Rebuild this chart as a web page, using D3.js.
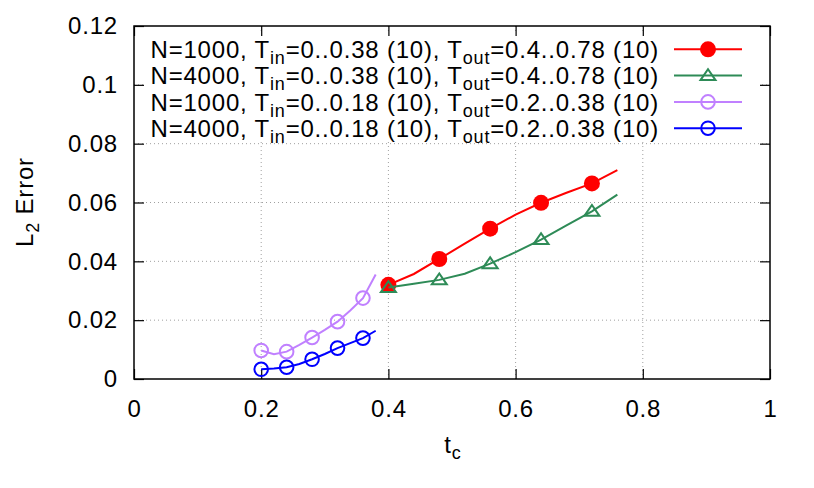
<!DOCTYPE html>
<html>
<head>
<meta charset="utf-8">
<script src="https://cdn.jsdelivr.net/npm/d3@7"></script>
<style>
  body { margin: 0; background: #fff; }
  svg { display: block; font-family: "Liberation Sans", Arial, Helvetica, sans-serif; }
  svg text { letter-spacing: 0.8px; }
</style>
</head>
<body>
<div id="chart"></div>
<script>
// data
var xLong = [0.40, 0.44, 0.48, 0.52, 0.56, 0.60, 0.64, 0.68, 0.72, 0.76];
var xShort = [0.20, 0.22, 0.24, 0.26, 0.28, 0.30, 0.32, 0.34, 0.36, 0.38];
var n1000Long = [0.0320, 0.0357, 0.0408, 0.0460, 0.0511, 0.0559, 0.0599, 0.0633, 0.0665, 0.0710];
var n4000Long = [0.0311, 0.0324, 0.0337, 0.0358, 0.0392, 0.0431, 0.0474, 0.0522, 0.0570, 0.0627];
var n1000Short = [0.0097, 0.0084, 0.0093, 0.0116, 0.0141, 0.0167, 0.0195, 0.0233, 0.0275, 0.0355];
var n4000Short = [0.0033, 0.0036, 0.0040, 0.0051, 0.0067, 0.0085, 0.0105, 0.0122, 0.0139, 0.0164];
var xTicks = [0, 0.2, 0.4, 0.6, 0.8, 1];
var yTicks = [0, 0.02, 0.04, 0.06, 0.08, 0.1, 0.12];

var series = [
    {N: "1000", tin: "0..0.38 (10)", tout: "0.4..0.78 (10)", xs: xLong, ys: n1000Long, color: "#ff0000", marker: "disc"},
    {N: "4000", tin: "0..0.38 (10)", tout: "0.4..0.78 (10)", xs: xLong, ys: n4000Long, color: "#2e8b57", marker: "tri"},
    {N: "1000", tin: "0..0.18 (10)", tout: "0.2..0.38 (10)", xs: xShort, ys: n1000Short, color: "#c080ff", marker: "ring"},
    {N: "4000", tin: "0..0.18 (10)", tout: "0.2..0.38 (10)", xs: xShort, ys: n4000Short, color: "#0000ff", marker: "ring"}
];

var W = 814, H = 488;
var margin = {top: 26, right: 44, bottom: 109, left: 134};
var width = W - margin.left - margin.right,
    height = H - margin.top - margin.bottom;

var svg = d3.select("#chart").append("svg")
    .attr("width", W)
    .attr("height", H);

var g = svg.append("g")
    .attr("transform", "translate(" + margin.left + "," + margin.top + ")");

var x = d3.scaleLinear().domain([0, 1]).range([0, width]);
var y = d3.scaleLinear().domain([0, 0.12]).range([height, 0]);

// Gitter (gepunktet)
g.append("g").selectAll("line")
    .data(xTicks.slice(1, -1))
    .enter().append("line")
    .attr("x1", d => x(d)).attr("x2", d => x(d))
    .attr("y1", 0).attr("y2", height)
    .attr("stroke", "#a0a0a0").attr("stroke-width", 1)
    .attr("stroke-dasharray", "1,3");

g.append("g").selectAll("line")
    .data(yTicks.slice(1, -1))
    .enter().append("line")
    .attr("x1", 0).attr("x2", width)
    .attr("y1", d => y(d)).attr("y2", d => y(d))
    .attr("stroke", "#a0a0a0").attr("stroke-width", 1)
    .attr("stroke-dasharray", "1,3");

// Legende: undurchsichtiger Hintergrund
var keyBox = {x0: 10, x1: 628, y0: 8, y1: 114};
g.append("rect")
    .attr("x", keyBox.x0).attr("y", keyBox.y0)
    .attr("width", keyBox.x1 - keyBox.x0)
    .attr("height", keyBox.y1 - keyBox.y0)
    .attr("fill", "#fff");

// Achsen (Ticks nach innen, gespiegelt)
var tickLen = 10;
function styleAxis(sel) {
    sel.select(".domain").remove();
    sel.selectAll(".tick line").attr("stroke", "#000").attr("stroke-width", 1.2);
    sel.selectAll(".tick text").attr("fill", "#000").style("font-size", "24px");
}
var fmt = d => d3.format("~g")(d);

g.append("g")
    .attr("transform", "translate(0," + height + ")")
    .call(d3.axisBottom(x).tickValues(xTicks).tickFormat(fmt).tickSizeInner(-tickLen).tickSizeOuter(0).tickPadding(21))
    .call(styleAxis);
g.append("g")
    .call(d3.axisTop(x).tickValues(xTicks).tickFormat("").tickSizeInner(-tickLen).tickSizeOuter(0))
    .call(styleAxis);
g.append("g")
    .call(d3.axisLeft(y).tickValues(yTicks).tickFormat(fmt).tickSizeInner(-tickLen).tickSizeOuter(0).tickPadding(16))
    .call(styleAxis);
g.append("g")
    .attr("transform", "translate(" + width + ",0)")
    .call(d3.axisRight(y).tickValues(yTicks).tickFormat("").tickSizeInner(-tickLen).tickSizeOuter(0))
    .call(styleAxis);

g.append("rect")
    .attr("width", width).attr("height", height)
    .attr("fill", "none").attr("stroke", "#000").attr("stroke-width", 1.5);

// Linien und Punkte
var line = d3.line().x(d => x(d[0])).y(d => y(d[1]));

function drawMarker(sel, type, color, cx, cy) {
    if (type === "disc") {
        sel.append("circle").attr("cx", cx).attr("cy", cy).attr("r", 8).attr("fill", color);
    } else if (type === "ring") {
        sel.append("circle").attr("cx", cx).attr("cy", cy).attr("r", 6.8)
            .attr("fill", "none").attr("stroke", color).attr("stroke-width", 2);
    } else {
        var s = 7.5;
        sel.append("path")
            .attr("d", "M" + (cx - s) + "," + (cy + s * 0.6) + "L" + (cx + s) + "," + (cy + s * 0.6) + "L" + cx + "," + (cy - s * 0.85) + "Z")
            .attr("fill", "none").attr("stroke", color).attr("stroke-width", 2);
    }
}

series.forEach(function(s) {
    var pts = s.xs.map((v, i) => [v, s.ys[i]]);
    g.append("path")
        .datum(pts)
        .attr("d", line)
        .attr("fill", "none")
        .attr("stroke", s.color)
        .attr("stroke-width", 2);
    var mk = g.append("g");
    pts.forEach(function(p, i) {
        if (i % 2 === 0) drawMarker(mk, s.marker, s.color, x(p[0]), y(p[1]));
    });
});

// Legenden-Einträge
var rowY0 = 23.3, rowStep = 26.3;
series.forEach(function(s, i) {
    var ly = rowY0 + i * rowStep;
    var t = g.append("text")
        .attr("x", 525)
        .attr("y", ly + 8.6)
        .attr("text-anchor", "end")
        .style("font-size", "24px")
        .attr("fill", "#000");
    t.append("tspan").text("N=" + s.N + ", T");
    t.append("tspan").attr("dy", 6).style("font-size", "18px").text("in");
    t.append("tspan").attr("dy", -6).text("=" + s.tin + ", T");
    t.append("tspan").attr("dy", 6).style("font-size", "18px").text("out");
    t.append("tspan").attr("dy", -6).text("=" + s.tout);

    g.append("line")
        .attr("x1", 540).attr("x2", 608)
        .attr("y1", ly).attr("y2", ly)
        .attr("stroke", s.color).attr("stroke-width", 2);
    drawMarker(g, s.marker, s.color, 574, ly);
});

// Achsenbeschriftungen
var xl = svg.append("text")
    .attr("x", 453).attr("y", 453)
    .attr("text-anchor", "middle")
    .style("font-size", "24px");
xl.append("tspan").text("t");
xl.append("tspan").attr("dy", 6).style("font-size", "18px").text("c");

var yl = svg.append("text")
    .attr("transform", "translate(33,202) rotate(-90)")
    .attr("text-anchor", "middle")
    .style("font-size", "24px");
yl.append("tspan").text("L");
yl.append("tspan").attr("dy", 6).style("font-size", "18px").text("2");
yl.append("tspan").attr("dy", -6).text(" Error");
</script>
</body>
</html>
